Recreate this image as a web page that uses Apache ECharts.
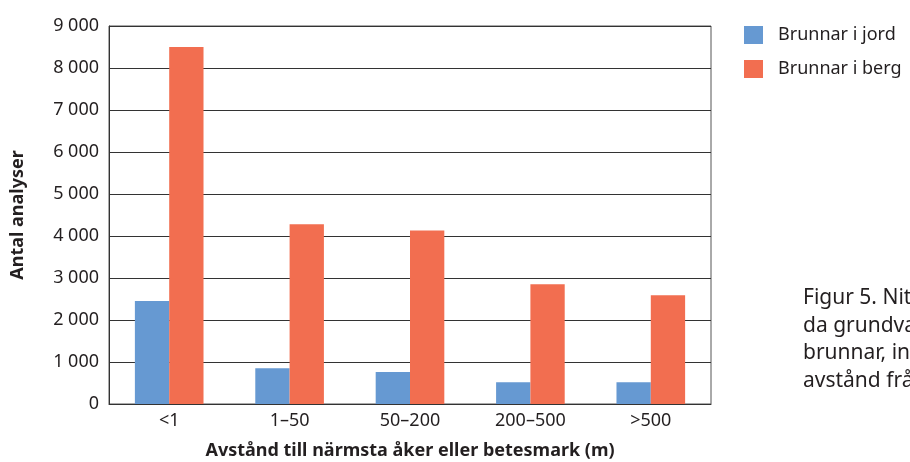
<!DOCTYPE html>
<html><head><meta charset="utf-8">
<script src="https://cdn.jsdelivr.net/npm/echarts@6/dist/echarts.min.js"></script>
<style>html,body{margin:0;padding:0;background:#fff;}#c{width:910px;height:462px;}</style>
</head><body><div id="c"></div>
<script>
const categories = ['<1', '1–50', '50–200', '200–500', '>500'];
const jord = [2450, 850, 760, 520, 520];
const berg = [8500, 4280, 4130, 2850, 2590];
const seriesNames = ['Brunnar i jord', 'Brunnar i berg'];
const yTicks = [0, 1000, 2000, 3000, 4000, 5000, 6000, 7000, 8000, 9000];
const captionLines = ['Figur 5. Nitratanalyser i enskil-', 'da grundvattentäkter, grävda', 'brunnar, indelade efter', 'avstånd från åker'];

const FONT = 'Noto Sans';
const TXT = '#231f20';
const chart = echarts.init(document.getElementById('c'));
const fmt = v => v >= 1000 ? Math.floor(v/1000) + ' ' + String(v%1000).padStart(3,'0') : String(v);
chart.setOption({
  animation: false,
  textStyle: { fontFamily: FONT, color: TXT },
  grid: { left: 109, top: 26, width: 602, height: 378, outerBoundsMode: 'none', containLabel: false, show: true, borderColor: '#555', borderWidth: 1, backgroundColor: 'transparent' },
  legend: {
    orient: 'vertical', left: 744, top: 26, itemWidth: 19, itemHeight: 18, itemGap: 16, padding: 0,
    icon: 'rect',
    textStyle: { fontFamily: FONT, fontSize: 18, color: TXT, padding: [0, 0, 0, 10] },
    data: seriesNames
  },
  xAxis: {
    type: 'category', data: categories,
    axisLine: { lineStyle: { color: '#333', width: 1 } },
    axisTick: { show: false },
    axisLabel: { fontFamily: FONT, fontSize: 18, color: TXT, margin: 8 },
    name: 'Avstånd till närmsta åker eller betesmark (m)',
    nameLocation: 'middle', nameGap: 38,
    nameTextStyle: { fontFamily: FONT, fontSize: 18, fontWeight: 'bold', color: TXT }
  },
  yAxis: {
    type: 'value', min: yTicks[0], max: yTicks[yTicks.length-1], interval: 1000,
    axisLine: { show: true, lineStyle: { color: '#333', width: 1 } },
    axisTick: { show: false },
    splitLine: { lineStyle: { color: '#333', width: 1 } },
    axisLabel: { fontFamily: FONT, fontSize: 18, color: TXT, margin: 10, formatter: fmt },
    name: 'Antal analyser', nameLocation: 'middle', nameGap: 82,
    nameTextStyle: { fontFamily: FONT, fontSize: 18, fontWeight: 'bold', color: TXT }
  },
  series: [
    { name: seriesNames[0], type: 'bar', data: jord, itemStyle: { color: '#6699d2' }, barGap: '0%', barCategoryGap: '43%' },
    { name: seriesNames[1], type: 'bar', data: berg, itemStyle: { color: '#f26e50' }, barGap: '0%', barCategoryGap: '43%' }
  ],
  graphic: captionLines.map((t, i) => ({
    type: 'text', left: 803, top: 288 + i * 27.5,
    style: { text: t, fontFamily: FONT, fontSize: 21, fill: TXT }
  }))
});
</script></body></html>
